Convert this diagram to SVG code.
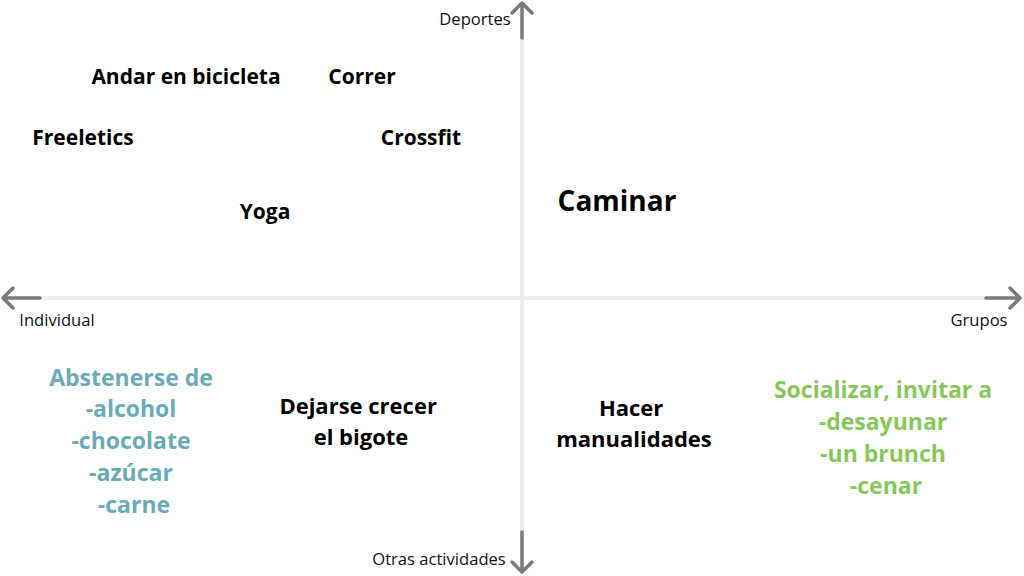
<svg xmlns="http://www.w3.org/2000/svg" width="1024" height="576" viewBox="0 0 1024 576">
<style>
.ax{stroke:#eeeeee;stroke-width:4;fill:none}
.ar{stroke:#7a7a7a;stroke-width:3.5;fill:none;stroke-linecap:round;stroke-linejoin:round}
.lbl{font-family:"Open Sans","Liberation Sans",sans-serif;font-size:16.6px;fill:#111;}
.t{font-family:"Open Sans","Liberation Sans",sans-serif;font-weight:700;font-size:21px;fill:#000;text-anchor:middle}
.m{font-size:22px}
.big{font-size:28px}
.teal{fill:#6aabb8;font-size:23px}
.green{fill:#86c95a;font-size:23px}
</style>
<rect width="1024" height="576" fill="#fff"/>
<g id="axes">
<line class="ax" x1="522" y1="36" x2="522" y2="540"/>
<line class="ax" x1="40" y1="298" x2="986" y2="298"/>
<path class="ar" d="M522 38 V3 M512 13 L522 3 L532 13"/>
<path class="ar" d="M522 532 V572 M512 562 L522 572 L532 562"/>
<path class="ar" d="M40 298 H3 M13 288 L3 298 L13 308"/>
<path class="ar" d="M986 298 H1020 M1010 288 L1020 298 L1010 308"/>
</g>
<g id="axis-labels">
<text class="lbl" x="475" y="25" text-anchor="middle">Deportes</text>
<text class="lbl" x="57" y="326" text-anchor="middle">Individual</text>
<text class="lbl" x="979" y="326" text-anchor="middle">Grupos</text>
<text class="lbl" x="439" y="565" text-anchor="middle">Otras actividades</text>
</g>
<g id="andar"><text class="t" x="186" y="84">Andar en bicicleta</text></g>
<g id="correr"><text class="t" x="362" y="84">Correr</text></g>
<g id="freeletics"><text class="t" x="83" y="145">Freeletics</text></g>
<g id="crossfit"><text class="t" x="421" y="145">Crossfit</text></g>
<g id="yoga"><text class="t" x="265" y="219">Yoga</text></g>
<g id="caminar"><text class="t big" x="617" y="211">Caminar</text></g>
<g id="abstenerse"><text class="t teal" x="134">
<tspan x="134" y="386">Abstenerse de</tspan>
<tspan x="134" y="417">-alcohol</tspan>
<tspan x="134" y="449">-chocolate</tspan>
<tspan x="134" y="481">-azúcar</tspan>
<tspan x="134" y="513">-carne</tspan>
</text></g>
<g id="bigote"><text class="t m" x="361">
<tspan x="361" y="414">Dejarse crecer</tspan>
<tspan x="361" y="445">el bigote</tspan>
</text></g>
<g id="manualidades"><text class="t m" x="634">
<tspan x="634" y="416">Hacer</tspan>
<tspan x="634" y="447">manualidades</tspan>
</text></g>
<g id="socializar"><text class="t green" x="886">
<tspan x="886" y="398">Socializar, invitar a</tspan>
<tspan x="886" y="430">-desayunar</tspan>
<tspan x="886" y="462">-un brunch</tspan>
<tspan x="886" y="494">-cenar</tspan>
</text></g>
</svg>
